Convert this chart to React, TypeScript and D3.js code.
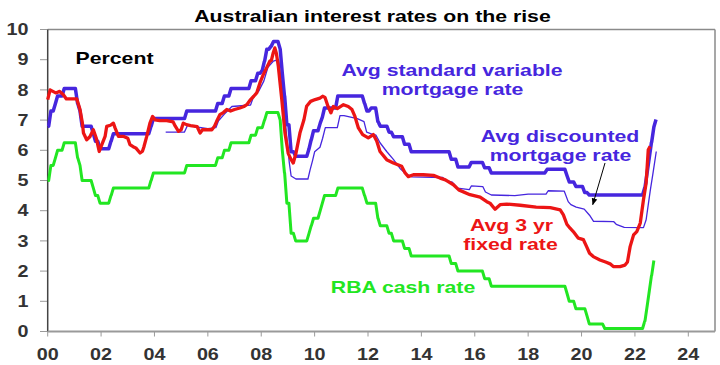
import React from "react";
import * as d3 from "d3";

// ---- data (year, percent) ----
// RBA cash rate: change points (monthly data, value holds until next change)
const cashRate: [number, number][] = [
  [2000.0, 5.0], [2000.12, 5.5], [2000.29, 5.75], [2000.37, 6.0], [2000.62, 6.25],
  [2001.12, 5.75], [2001.21, 5.5], [2001.29, 5.0], [2001.71, 4.75], [2001.79, 4.5], [2001.96, 4.25],
  [2002.37, 4.5], [2002.46, 4.75], [2003.87, 5.0], [2003.96, 5.25], [2005.21, 5.5],
  [2006.37, 5.75], [2006.62, 6.0], [2006.87, 6.25], [2007.62, 6.5], [2007.87, 6.75],
  [2008.12, 7.0], [2008.21, 7.25], [2008.71, 7.0], [2008.79, 6.0], [2008.87, 5.25], [2008.96, 4.25],
  [2009.12, 3.25], [2009.29, 3.0], [2009.79, 3.25], [2009.87, 3.5], [2009.96, 3.75],
  [2010.21, 4.0], [2010.29, 4.25], [2010.37, 4.5], [2010.87, 4.75],
  [2011.87, 4.5], [2011.96, 4.25], [2012.37, 3.75], [2012.46, 3.5], [2012.79, 3.25], [2012.96, 3.0],
  [2013.37, 2.75], [2013.62, 2.5], [2015.12, 2.25], [2015.37, 2.0], [2016.37, 1.75], [2016.62, 1.5],
  [2019.46, 1.25], [2019.54, 1.0], [2019.79, 0.75], [2020.21, 0.5], [2020.29, 0.25], [2020.87, 0.1],
  [2022.37, 0.35], [2022.46, 0.85], [2022.54, 1.35], [2022.62, 1.85], [2022.71, 2.35],
];

// Avg standard variable mortgage rate: change points
const standardVariable: [number, number][] = [
  [2000.0, 6.8], [2000.12, 7.3], [2000.29, 7.55], [2000.37, 7.8], [2000.62, 8.05],
  [2001.12, 7.55], [2001.21, 7.3], [2001.29, 6.8], [2001.71, 6.55], [2001.79, 6.3], [2001.96, 6.05],
  [2002.37, 6.3], [2002.46, 6.55], [2003.87, 6.8], [2003.96, 7.05], [2005.21, 7.3],
  [2006.37, 7.55], [2006.62, 7.8], [2006.87, 8.05], [2007.62, 8.3], [2007.87, 8.55],
  [2008.04, 8.65], [2008.12, 8.95], [2008.21, 9.35], [2008.37, 9.45], [2008.46, 9.6],
  [2008.71, 9.35], [2008.79, 8.55], [2008.87, 7.8], [2008.96, 6.85], [2009.12, 5.95], [2009.29, 5.8],
  [2009.79, 6.05], [2009.87, 6.35], [2009.96, 6.65], [2010.21, 6.9], [2010.29, 7.1], [2010.37, 7.4],
  [2010.87, 7.8], [2011.87, 7.55], [2011.96, 7.3], [2012.12, 7.4], [2012.37, 6.95], [2012.46, 6.8],
  [2012.79, 6.6], [2012.96, 6.45], [2013.37, 6.2], [2013.62, 5.95], [2015.12, 5.7], [2015.37, 5.45],
  [2015.87, 5.6], [2016.37, 5.42], [2016.62, 5.25], [2018.71, 5.37], [2019.46, 5.15], [2019.54, 4.95],
  [2019.79, 4.8], [2020.12, 4.6], [2020.29, 4.52], [2022.37, 4.77], [2022.46, 5.27], [2022.54, 5.77],
  [2022.62, 6.27], [2022.71, 6.77], [2022.79, 7.02],
];

// Avg discounted mortgage rate
const discountedVariable: [number, number][] = [
  [2004.42, 6.6], [2005.12, 6.6], [2005.25, 6.85], [2005.5, 6.78], [2006.0, 6.72], [2006.3, 6.75],
  [2006.4, 6.98], [2006.62, 7.2], [2006.9, 7.45], [2007.6, 7.5], [2007.7, 7.75], [2007.9, 7.95],
  [2008.1, 8.3], [2008.25, 8.75], [2008.45, 8.95], [2008.65, 9.0], [2008.75, 8.3], [2008.85, 7.5],
  [2008.95, 6.5], [2009.05, 5.6], [2009.12, 5.15], [2009.3, 5.05], [2009.75, 5.05], [2009.83, 5.35],
  [2009.92, 5.65], [2010.0, 5.95], [2010.2, 6.1], [2010.3, 6.4], [2010.4, 6.75], [2010.85, 6.75],
  [2010.95, 7.15], [2011.1, 7.15], [2011.6, 7.05], [2011.85, 6.95], [2011.95, 6.6], [2012.1, 6.55],
  [2012.3, 6.5], [2012.45, 6.25], [2012.7, 5.96], [2012.95, 5.7], [2013.2, 5.4], [2013.45, 5.2],
  [2013.65, 5.12], [2014.8, 5.1], [2014.9, 5.0], [2015.15, 4.95], [2015.35, 4.75], [2015.8, 4.7],
  [2015.87, 4.82], [2016.3, 4.8], [2016.4, 4.62], [2016.62, 4.52], [2017.5, 4.5], [2018.0, 4.55],
  [2018.67, 4.55], [2018.75, 4.66], [2019.35, 4.65], [2019.5, 4.3], [2019.6, 4.2], [2019.8, 4.12],
  [2020.1, 4.05], [2020.3, 3.85], [2020.45, 3.65], [2021.2, 3.64], [2021.3, 3.55], [2021.6, 3.45],
  [2022.32, 3.44], [2022.42, 3.7], [2022.5, 4.2], [2022.58, 4.7], [2022.67, 5.2], [2022.8, 5.96],
];

// Avg 3 yr fixed rate
const fixed3yr: [number, number][] = [
  [2000.0, 7.68], [2000.09, 8.0], [2000.3, 7.9], [2000.45, 7.95], [2000.58, 7.85], [2000.7, 7.7],
  [2001.09, 7.7], [2001.21, 7.35], [2001.3, 6.9], [2001.34, 6.57], [2001.46, 6.35], [2001.58, 6.45],
  [2001.71, 6.68], [2001.82, 6.4], [2001.93, 5.96], [2002.05, 6.24], [2002.15, 6.46], [2002.21, 6.79],
  [2002.35, 6.83], [2002.46, 6.9], [2002.52, 6.75], [2002.65, 6.46], [2002.85, 6.46], [2003.0, 6.4],
  [2003.08, 6.19], [2003.2, 6.12], [2003.3, 6.08], [2003.46, 5.91], [2003.55, 5.97], [2003.6, 6.1],
  [2003.71, 6.46], [2003.83, 6.9], [2003.93, 7.12], [2004.02, 7.01], [2004.2, 6.98], [2004.46, 6.98],
  [2004.7, 6.94], [2004.78, 6.8], [2004.9, 6.63], [2005.0, 6.68], [2005.08, 6.9], [2005.2, 6.85],
  [2005.35, 6.82], [2005.6, 6.78], [2005.71, 6.57], [2005.8, 6.68], [2005.95, 6.68], [2006.15, 6.68],
  [2006.25, 6.8], [2006.33, 6.96], [2006.45, 7.18], [2006.58, 7.25], [2006.71, 7.35], [2006.85, 7.3],
  [2007.0, 7.35], [2007.2, 7.4], [2007.35, 7.45], [2007.46, 7.51], [2007.6, 7.68], [2007.72, 7.79],
  [2007.83, 7.9], [2007.95, 8.23], [2008.08, 8.51], [2008.2, 8.73], [2008.32, 8.95], [2008.38, 8.98],
  [2008.45, 9.23], [2008.51, 9.39], [2008.57, 9.2], [2008.64, 8.78], [2008.77, 7.68], [2008.89, 6.57],
  [2009.01, 5.9], [2009.12, 5.69], [2009.2, 5.58], [2009.3, 5.9], [2009.45, 6.57], [2009.6, 7.01],
  [2009.7, 7.46], [2009.85, 7.62], [2010.02, 7.68], [2010.2, 7.73], [2010.3, 7.79], [2010.39, 7.75],
  [2010.5, 7.46], [2010.61, 7.24], [2010.7, 7.45], [2010.85, 7.38], [2011.08, 7.51], [2011.26, 7.45],
  [2011.4, 7.35], [2011.51, 7.12], [2011.64, 6.74], [2011.8, 6.52], [2012.01, 6.41], [2012.2, 6.52],
  [2012.33, 6.3], [2012.45, 5.96], [2012.7, 5.69], [2012.95, 5.58], [2013.26, 5.47], [2013.39, 5.25],
  [2013.51, 5.13], [2013.7, 5.19], [2014.07, 5.19], [2014.45, 5.17], [2014.7, 5.08], [2014.9, 5.02],
  [2015.2, 4.86], [2015.4, 4.69], [2015.82, 4.53], [2016.2, 4.45], [2016.45, 4.3], [2016.57, 4.25],
  [2016.76, 4.05], [2016.95, 4.2], [2017.2, 4.22], [2017.7, 4.18], [2018.3, 4.12], [2018.83, 4.1],
  [2019.2, 4.03], [2019.32, 3.86], [2019.45, 3.55], [2019.57, 3.42], [2019.69, 3.31], [2019.88, 3.09],
  [2020.07, 3.04], [2020.19, 2.81], [2020.3, 2.59], [2020.44, 2.48], [2020.69, 2.37], [2020.9, 2.3],
  [2021.07, 2.24], [2021.19, 2.15], [2021.44, 2.15], [2021.63, 2.2], [2021.72, 2.3], [2021.82, 2.81],
  [2021.95, 3.2], [2022.07, 3.31], [2022.2, 3.59], [2022.32, 4.36], [2022.42, 4.92], [2022.5, 6.02],
  [2022.57, 6.13],
];

const xTickYears = [2000, 2002, 2004, 2006, 2008, 2010, 2012, 2014, 2016, 2018, 2020, 2022, 2024];
const xTickLabels = ["00", "02", "04", "06", "08", "10", "12", "14", "16", "18", "20", "22", "24"];
const yTicks = [0, 1, 2, 3, 4, 5, 6, 7, 8, 9, 10];

// ---- styling ----
const BLUE = "#4626DE";
const RED = "#EC1515";
const GREEN = "#22E622";
const FONT = "'Liberation Sans', Arial, sans-serif";
const SX = 1.25; // horizontal stretch of the original artwork's text

// monthly step data: value held until the month before each change
function expandSteps(changes: [number, number][]): [number, number][] {
  const out: [number, number][] = [];
  changes.forEach(([t, v], i) => {
    if (i > 0) {
      const [pt, pv] = changes[i - 1];
      const hold = t - 1 / 12;
      if (hold > pt + 1e-6) out.push([hold, pv]);
    }
    out.push([t, v]);
  });
  return out;
}

export default function App() {
  const W = 720, H = 365;
  const x = d3.scaleLinear().domain([2000, 2025]).range([47.7, 715]);
  const y = d3.scaleLinear().domain([0, 10]).range([331.5, 29.5]);
  const line = d3.line<[number, number]>().x((d) => x(d[0])).y((d) => y(d[1])).curve(d3.curveLinear);

  const T = (cx: number, by: number, size: number, fill: string, txt: string, anchor = "middle", key?: string) => (
    <text key={key ?? txt + cx + by} transform={`translate(${cx},${by}) scale(${SX},1)`} textAnchor={anchor}
      fontFamily={FONT} fontWeight="bold" fontSize={size} fill={fill}>{txt}</text>
  );

  const [x0, x1] = x.range();
  const [yb, yt] = y.range();

  return (
    <svg width={W} height={H} style={{ position: "absolute", left: 0, top: 0, display: "block", background: "#fff" }}>
      <rect x={0} y={0} width={W} height={H} fill="#fff" />
      {/* title */}
      {T(372.5, 21.5, 17, "#000", "Australian interest rates on the rise")}
      {/* frame */}
      <line x1={x0} y1={yt} x2={x1} y2={yt} stroke="#8a8a8a" strokeWidth={1.5} />
      <line x1={x1} y1={yt} x2={x1} y2={yb} stroke="#8a8a8a" strokeWidth={1.5} />
      {/* y axis */}
      {yTicks.map((v) => (
        <g key={"yt" + v}>
          <line x1={40} x2={x0} y1={y(v)} y2={y(v)} stroke="#9a9a9a" strokeWidth={1} />
          {T(28.5, y(v) + 5.7, 15.8, "#333", String(v), "end", "yl" + v)}
        </g>
      ))}
      <line x1={x0} y1={yt} x2={x0} y2={yb} stroke="#444" strokeWidth={1.5} />
      {/* x axis */}
      {xTickYears.map((t, i) => (
        <g key={"xt" + t}>
          <line x1={x(t)} x2={x(t)} y1={yb} y2={yb + 5} stroke="#9a9a9a" strokeWidth={1} />
          {T(x(t), 360, 15.8, "#333", xTickLabels[i], "middle", "xl" + t)}
        </g>
      ))}
      <line x1={x0} y1={yb} x2={x1} y2={yb} stroke="#9a9a9a" strokeWidth={2} />

      {/* series */}
      <path d={line(expandSteps(cashRate)) || ""} fill="none" stroke={GREEN} strokeWidth={3} strokeLinejoin="round" />
      <path d={line(discountedVariable) || ""} fill="none" stroke={BLUE} strokeWidth={1.3} strokeLinejoin="round" />
      <path d={line(expandSteps(standardVariable)) || ""} fill="none" stroke={BLUE} strokeWidth={3.5} strokeLinejoin="round" />
      <path d={line(fixed3yr) || ""} fill="none" stroke={RED} strokeWidth={3.3} strokeLinejoin="round" />

      {/* annotations */}
      <defs>
        <marker id="arr" viewBox="0 0 10 10" refX={9} refY={5} markerWidth={7} markerHeight={7} orient="auto">
          <path d="M0,1 L10,5 L0,9 z" fill="#000" />
        </marker>
      </defs>
      <line x1={x(2020.88)} y1={y(5.58)} x2={x(2020.42)} y2={y(4.2)} stroke="#000" strokeWidth={1} markerEnd="url(#arr)" />
      {T(114.5, 64, 17, "#000", "Percent")}
      {T(452, 76, 17, BLUE, "Avg standard variable")}
      {T(452.5, 95, 17, BLUE, "mortgage rate", "middle", "m1")}
      {T(560, 141.5, 17, BLUE, "Avg discounted")}
      {T(560.5, 160.5, 17, BLUE, "mortgage rate", "middle", "m2")}
      {T(511.5, 230.5, 17, RED, "Avg 3 yr")}
      {T(510.5, 249.5, 17, RED, "fixed rate")}
      {T(403, 293.3, 17, GREEN, "RBA cash rate")}
    </svg>
  );
}
